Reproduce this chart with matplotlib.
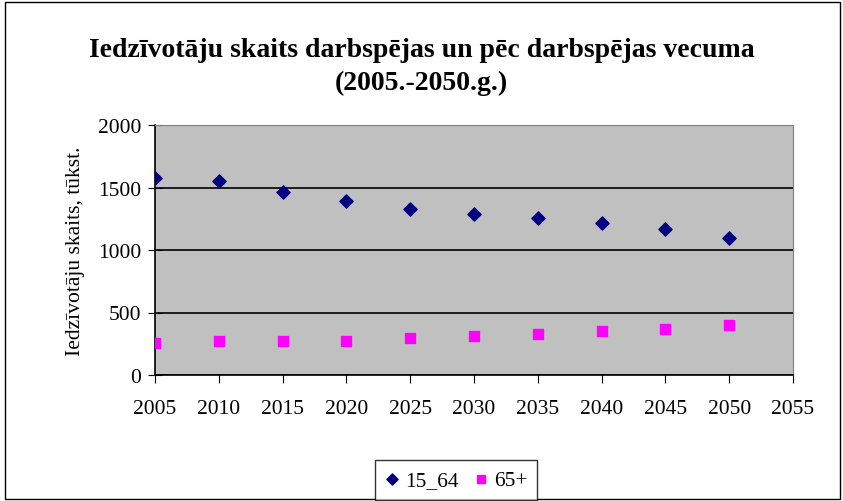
# Iedzīvotāju skaits darbspējas un pēc darbspējas vecuma (2005.-2050.g.)
import matplotlib
matplotlib.use("Agg")
import matplotlib.pyplot as plt
from matplotlib.patches import Rectangle

# Data (thousands of people)
years = [2005, 2010, 2015, 2020, 2025, 2030, 2035, 2040, 2045, 2050]
working_age = [1580, 1550, 1462, 1389, 1331, 1287, 1255, 1215, 1172, 1100]
retired = [255, 271, 271, 271, 300, 313, 327, 356, 372, 399]
xticks = [2005, 2010, 2015, 2020, 2025, 2030, 2035, 2040, 2045, 2050, 2055]
yticks = [0, 500, 1000, 1500, 2000]

plt.rcParams['font.family'] = ['Liberation Serif', 'DejaVu Serif']

fig = plt.figure(figsize=(8.43, 5.02), dpi=100)

# Outer chart border
fig.patches.append(Rectangle((0.006, 0.004), 0.99, 0.99, transform=fig.transFigure,
                             fill=False, edgecolor="black", linewidth=1.0))

ax = fig.add_axes([155 / 843, 1 - 376 / 502, (793 - 155) / 843, (376 - 126) / 502])
ax.set_facecolor("#C0C0C0")

ax.scatter(years, working_age, marker="D", s=45, color="#000080", label="15_64", zorder=3)
ax.scatter(years, retired, marker="s", s=50, color="#FF00FF", label="65+", zorder=3)

ax.set_xlim(2005, 2055)
ax.set_ylim(0, 2000)
ax.set_xticks(xticks)
ax.set_yticks(yticks)
ax.tick_params(axis="x", direction="out", length=6, labelsize=15.5, pad=11)
ax.tick_params(axis="y", direction="inout", length=10, labelsize=15.5, pad=5)

# Black horizontal gridlines like Excel
ax.yaxis.grid(True, color="black", linewidth=1.2)
ax.set_axisbelow(True)

for side in ["top", "right"]:
    ax.spines[side].set_color("#808080")
for side in ["left", "bottom"]:
    ax.spines[side].set_color("black")
    ax.spines[side].set_linewidth(1.2)

ax.set_ylabel("Iedzīvotāju skaits, tūkst.", fontsize=15.5, labelpad=9)

fig.text(0.5, 1 - 67 / 502, "Iedzīvotāju skaits darbspējas un pēc darbspējas vecuma\n(2005.-2050.g.)",
         ha="center", va="center", fontsize=20, fontweight="bold", linespacing=1.45)

fig.legend(loc="center", bbox_to_anchor=(456 / 843, 1 - 481 / 502), ncol=2, fontsize=15.5,
           frameon=True, fancybox=False, edgecolor="black", handletextpad=0.25,
           handlelength=0.7, columnspacing=0.7, borderpad=0.45, markerscale=0.85)

fig.savefig("out.png", dpi=100)
